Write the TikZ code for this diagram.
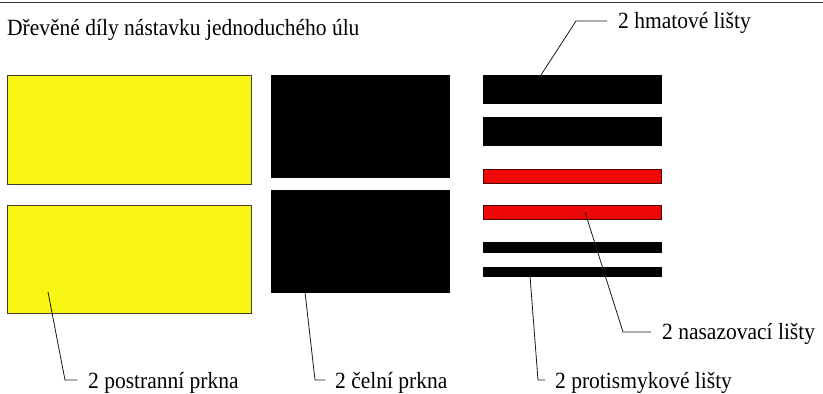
\documentclass[tikz,border=0pt]{standalone}
\usepackage{fontspec}
\setmainfont{Liberation Serif}
\newfontfamily\labelserif{Liberation Serif}
\definecolor{plankyellow}{RGB}{248,244,20}
\definecolor{stripred}{RGB}{238,8,8}
\definecolor{edgegray}{RGB}{70,60,40}
\tikzset{
  part/.style={draw=edgegray, line width=0.9pt, inner sep=0pt, outer sep=0pt},
  yellowpart/.style={part, fill=plankyellow},
  blackpart/.style={part, draw=black, fill=black},
  redpart/.style={part, draw=black!70!red, fill=stripred},
  leader/.style={draw=black!90, line width=0.8pt},
  lbl/.style={anchor=base west, inner sep=0pt, yscale=1.08, font=\labelserif\fontsize{21.5}{24}\selectfont}
}
\begin{document}
\begin{tikzpicture}[x=1pt,y=-1pt]
\useasboundingbox (0,0) rectangle (823,394);
% top border line
\coordinate (tl) at (0,2);
\coordinate (tr) at (823,2);
\draw[line width=1pt, black!80] (tl) -- (tr);
% title
\node[lbl] (title) at (7,35) {Dřevěné díly nástavku jednoduchého úlu};
% side boards (yellow)
\node[yellowpart, minimum width=244pt, minimum height=109pt] (y1) at (129,129.5) {};
\node[yellowpart, minimum width=244pt, minimum height=108pt] (y2) at (129,259) {};
% front boards (black)
\node[blackpart, minimum width=178pt, minimum height=102pt] (b1) at (360,126) {};
\node[blackpart, minimum width=178pt, minimum height=102pt] (b2) at (360,241) {};
% strips
\node[blackpart, minimum width=178pt, minimum height=28pt] (s1) at (572,89) {};
\node[blackpart, minimum width=178pt, minimum height=28pt] (s2) at (572,131) {};
\node[redpart, minimum width=178pt, minimum height=14pt] (r1) at (572,176) {};
\node[redpart, minimum width=178pt, minimum height=14pt] (r2) at (572,212) {};
\node[blackpart, minimum width=178pt, minimum height=10pt] (s3) at (572,247) {};
\node[blackpart, minimum width=178pt, minimum height=9pt] (s4) at (572,271.5) {};
% labels
\node[lbl] (lhmat) at (618,28) {2 hmatové lišty};
\node[lbl] (lnas) at (662,339) {2 nasazovací lišty};
\node[lbl] (lprot) at (555,388) {2 protismykové lišty};
\node[lbl] (lcel) at (335,388) {2 čelní prkna};
\node[lbl] (lpost) at (88,388) {2 postranní prkna};
% leader coordinates
\coordinate (hA) at (541,75);
\coordinate (hB) at (576,21);
\coordinate (hC) at (607,21);
\coordinate (nA) at (585,212);
\coordinate (nB) at (623,332);
\coordinate (nC) at (651,332);
\coordinate (pA) at (530,276);
\coordinate (pB) at (538,380);
\coordinate (pC) at (545,380);
\coordinate (cA) at (305,292);
\coordinate (cB) at (315,380);
\coordinate (cC) at (325,380);
\coordinate (yA) at (48,292);
\coordinate (yB) at (65,380);
\coordinate (yC) at (77,380);
% leaders
\draw[leader] (hA) -- (hB) -- (hC);
\draw[leader] (nA) -- (nB) -- (nC);
\draw[leader] (pA) -- (pB) -- (pC);
\draw[leader] (cA) -- (cB) -- (cC);
\draw[leader] (yA) -- (yB) -- (yC);
\end{tikzpicture}
\end{document}
